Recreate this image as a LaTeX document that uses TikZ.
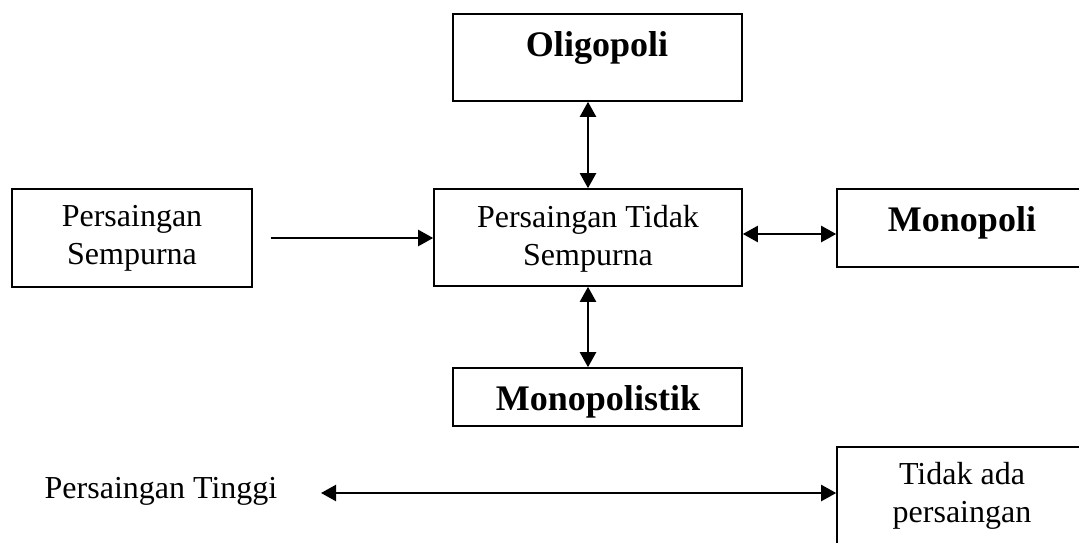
\documentclass[tikz,border=0pt]{standalone}
\usepackage{fontspec}
\setmainfont{Liberation Serif}
\usetikzlibrary{arrows.meta}
\tikzset{
  box/.style={draw=black, line width=1.6pt, rectangle, inner sep=0pt},
  txt/.style={inner sep=0pt, align=center, font=\fontsize{32}{38}\selectfont},
  btxt/.style={inner sep=0pt, align=center, font=\fontsize{36}{40}\selectfont\bfseries},
  conn/.style={line width=2.2pt, -{Triangle[length=15pt,width=16pt]}},
  dconn/.style={line width=2.2pt, {Triangle[length=15pt,width=16pt]}-{Triangle[length=15pt,width=16pt]}},
}
\begin{document}
\begin{tikzpicture}[x=1pt,y=-1pt]
\useasboundingbox (0,0) rectangle (1079,542);
% boxes
\node[box, minimum width=289pt, minimum height=87pt] (olig) at (597.5,57.5) {};
\node[box, minimum width=240pt, minimum height=98pt] (ps) at (132,238) {};
\node[box, minimum width=308pt, minimum height=97pt] (pts) at (588,237.5) {};
\node[box, minimum width=253pt, minimum height=78pt] (mono) at (963.5,228) {};
\node[box, minimum width=289pt, minimum height=58pt] (mstik) at (597.5,397) {};
\node[box, minimum width=253pt, minimum height=113pt] (tidak) at (963.5,503.5) {};
% texts
\node[btxt] (toli) at (597,48) {Oligopoli};
\node[txt] (tps) at (132,238) {Persaingan\\Sempurna};
\node[txt] (tpts) at (588,239) {Persaingan Tidak\\Sempurna};
\node[btxt] (tmono) at (962,222.5) {Monopoli};
\node[btxt] (tmstik) at (598,401.5) {Monopolistik};
\node[txt] (ptinggi) at (161,491) {Persaingan Tinggi};
\node[txt] (ttidak) at (962,496) {Tidak ada\\persaingan};
% connectors
\coordinate (psout) at ([xshift=18pt]ps.east);
\draw[conn] (psout) -- (psout -| pts.west);
\draw[dconn] (pts.north) -- (pts.north |- olig.south);
\draw[dconn] (pts.south) -- (pts.south |- mstik.north);
\coordinate (ptsr) at ([yshift=3.5pt]pts.east);
\draw[dconn] (ptsr) -- (ptsr -| mono.west);
\coordinate (bl) at (321,493);
\draw[dconn] (bl) -- (bl -| tidak.west);
\end{tikzpicture}
\end{document}
